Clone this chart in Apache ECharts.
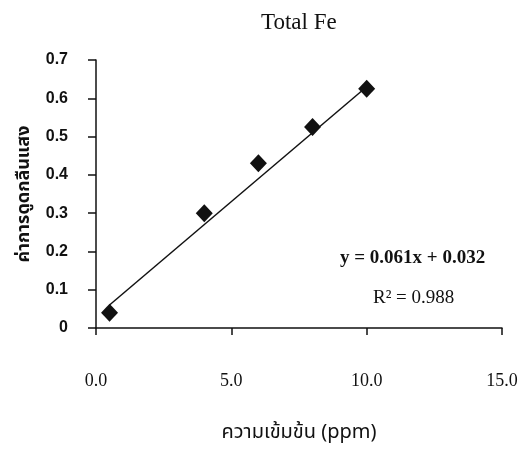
<!DOCTYPE html>
<html>
<head>
<meta charset="utf-8">
<script src="https://cdn.jsdelivr.net/npm/echarts@6/dist/echarts.min.js"></script>
<style>
html,body{margin:0;padding:0;background:#fff;}
#chart{width:522px;height:449px;}
</style>
</head>
<body>
<div id="chart"></div>
<script>
var conc = [0.5, 4, 6, 8, 10];
var absorb = [0.04, 0.30, 0.43, 0.525, 0.625];
var trendX = [0.5, 10];
var trendY = [0.06, 0.63];
var xTicks = ['0.0', '5.0', '10.0', '15.0'];

var pts = [];
for (var i = 0; i < conc.length; i++) {
    pts.push([conc[i], absorb[i]]);
}
var trend = [];
for (var j = 0; j < trendX.length; j++) {
    trend.push([trendX[j], trendY[j]]);
}

var myChart = echarts.init(document.getElementById('chart'));
var option = {
    backgroundColor: '#FFFFFF',
    animation: false,
    title: {
        text: 'Total Fe',
        left: 256,
        top: 6,
        textStyle: {
            fontFamily: 'Liberation Serif',
            fontSize: 23,
            fontWeight: 'normal',
            color: '#111'
        }
    },
    grid: {
        left: 96,
        right: 20,
        top: 60,
        bottom: 119
    },
    xAxis: {
        type: 'value',
        min: 0,
        max: 15,
        interval: 5,
        splitLine: {show: false},
        axisLine: {onZero: false, lineStyle: {color: '#111', width: 1.5}},
        axisTick: {inside: false, length: 7, lineStyle: {color: '#111', width: 1.5}},
        axisLabel: {
            margin: 44,
            color: '#111',
            fontFamily: 'Liberation Serif',
            fontSize: 18,
            formatter: function (v) { return xTicks[Math.round(v / 5)]; }
        },
        name: 'ความเข้มข้น (ppm)',
        nameLocation: 'middle',
        nameGap: 96,
        nameTextStyle: {
            color: '#111',
            fontSize: 20,
            fontFamily: 'Noto Sans Thai, Noto Sans, DejaVu Sans, sans-serif'
        }
    },
    yAxis: {
        type: 'value',
        min: 0,
        max: 0.7,
        interval: 0.1,
        splitLine: {show: false},
        axisLine: {lineStyle: {color: '#111', width: 1.5}},
        axisTick: {inside: false, length: 8, lineStyle: {color: '#111', width: 1.5}},
        axisLabel: {
            margin: 28,
            color: '#111',
            fontFamily: 'Liberation Sans',
            fontWeight: 'bold',
            fontSize: 16,
            formatter: function (v) { return v === 0 ? '0' : v.toFixed(1); }
        },
        name: 'ค่าการดูดกลืนแสง',
        nameLocation: 'middle',
        nameGap: 56,
        nameRotate: 90,
        nameTextStyle: {
            color: '#111',
            fontSize: 18,
            fontWeight: 'bold',
            fontFamily: 'Noto Sans Thai, Noto Sans, DejaVu Sans, sans-serif'
        }
    },
    graphic: [
        {
            type: 'text',
            left: 340,
            top: 249,
            style: {
                text: 'y = 0.061x + 0.032',
                font: 'bold 19px "Liberation Serif"',
                fill: '#111'
            }
        },
        {
            type: 'text',
            left: 373,
            top: 289,
            style: {
                text: 'R² = 0.988',
                font: '19px "Liberation Serif"',
                fill: '#111'
            }
        }
    ],
    series: [
        {
            name: 'trend',
            type: 'line',
            data: trend,
            symbol: 'none',
            lineStyle: {color: '#111', width: 1.5},
            z: 2
        },
        {
            name: 'Total Fe',
            type: 'scatter',
            data: pts,
            symbol: 'diamond',
            symbolSize: [17, 18],
            itemStyle: {color: '#111', opacity: 1},
            z: 3
        }
    ]
};
myChart.setOption(option);
</script>
</body>
</html>
